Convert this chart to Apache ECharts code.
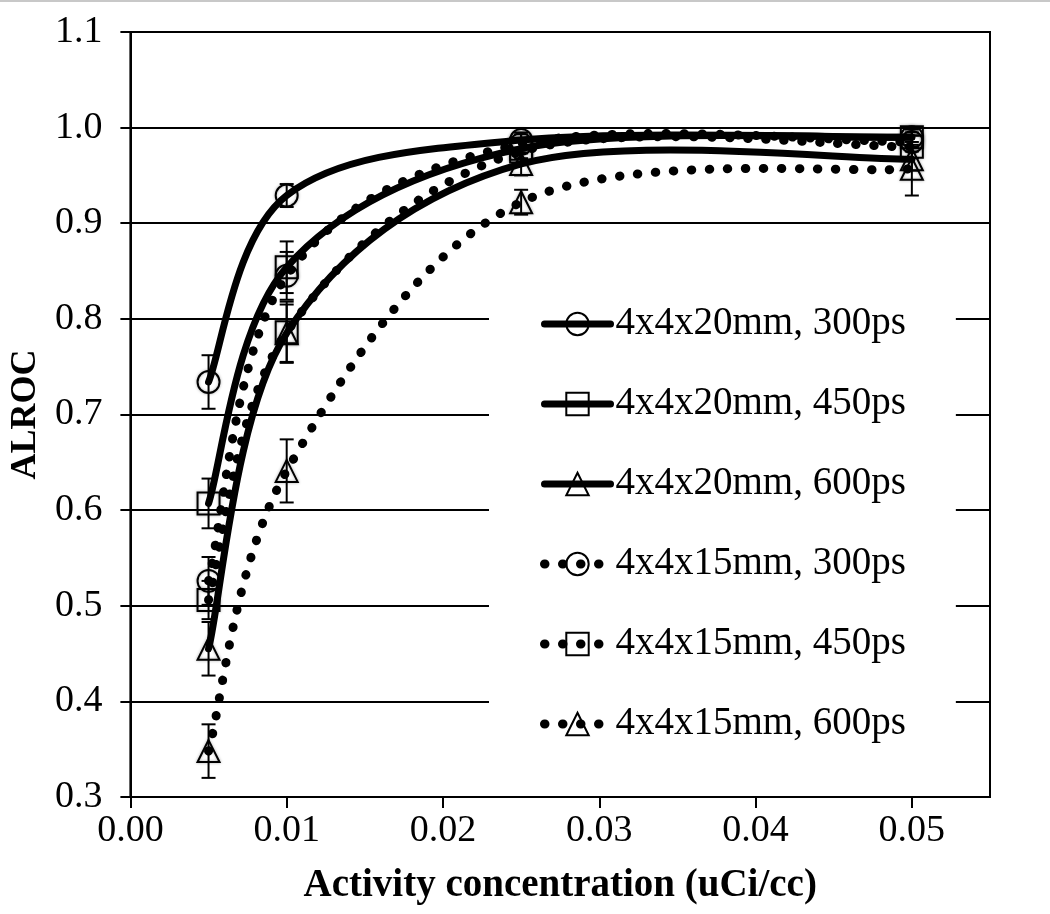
<!DOCTYPE html>
<html>
<head>
<meta charset="utf-8">
<script src="https://cdn.jsdelivr.net/npm/echarts@6/dist/echarts.min.js"></script>
<style>
html,body{margin:0;padding:0;background:#fff;}
#chart{width:1050px;height:914px;}
</style>
</head>
<body>
<div id="chart"></div>
<script>
// ---- data ----
const xValues = [0.005, 0.01, 0.025, 0.05];
const seriesNames = [
  '4x4x20mm, 300ps', '4x4x20mm, 450ps', '4x4x20mm, 600ps',
  '4x4x15mm, 300ps', '4x4x15mm, 450ps', '4x4x15mm, 600ps'
];
const s20_300 = [0.734, 0.929, 0.987, 0.990];
const s20_450 = [0.607, 0.854, 0.978, 0.990];
const s20_600 = [0.455, 0.785, 0.962, 0.967];
const s15_300 = [0.526, 0.845, 0.983, 0.985];
const s15_450 = [0.506, 0.786, 0.975, 0.980];
const s15_600 = [0.348, 0.641, 0.922, 0.957];
const e20_300 = [0.028, 0.012, 0.008, 0.008];
const e20_450 = [0.026, 0.027, 0.010, 0.010];
const e20_600 = [0.028, 0.030, 0.012, 0.012];
const e15_300 = [0.025, 0.025, 0.010, 0.010];
const e15_450 = [0.020, 0.032, 0.012, 0.012];
const e15_600 = [0.028, 0.033, 0.013, 0.028];
const xTicks = [0, 0.01, 0.02, 0.03, 0.04, 0.05];
const yTicks = [0.3, 0.4, 0.5, 0.6, 0.7, 0.8, 0.9, 1.0, 1.1];

const allValues = [s20_300, s20_450, s20_600, s15_300, s15_450, s15_600];
const allErrors = [e20_300, e20_450, e20_600, e15_300, e15_450, e15_600];
const symbols = ['circle', 'rect', 'triangle', 'circle', 'rect', 'triangle'];

const FONT = '"Liberation Serif", "Times New Roman", serif';
const SOLID = { color: '#000', width: 7, type: 'solid', cap: 'round', opacity: 1 };
const DOTTED = { color: '#000', width: 9, type: [0.5, 17.5], cap: 'round', opacity: 1 };

// smooth curve (Excel-like Catmull-Rom) through the data, in pixel space via api.coord
function curvePath(api, vals) {
  const pts = vals.map((v, k) => api.coord([xValues[k], v]));
  let d = 'M' + pts[0][0] + ' ' + pts[0][1];
  for (let i = 0; i < pts.length - 1; i++) {
    const p0 = pts[Math.max(i - 1, 0)], p1 = pts[i], p2 = pts[i + 1];
    const p3 = pts[Math.min(i + 2, pts.length - 1)];
    const c1x = p1[0] + (p2[0] - p0[0]) / 6, c1y = p1[1] + (p2[1] - p0[1]) / 6;
    const c2x = p2[0] - (p3[0] - p1[0]) / 6, c2y = p2[1] - (p3[1] - p1[1]) / 6;
    d += ' C' + c1x + ' ' + c1y + ' ' + c2x + ' ' + c2y + ' ' + p2[0] + ' ' + p2[1];
  }
  return d;
}

const curveSeries = allValues.map((vals, i) => {
  const ls = i >= 3 ? DOTTED : SOLID;
  return {
    type: 'custom',
    name: 'curve' + i,
    z: 2,
    silent: true,
    data: vals.map((v, k) => [xValues[k], v]),
    encode: { x: 0, y: 1 },
    renderItem: function (params, api) {
      if (params.dataIndex !== 0) return null;
      return {
        type: 'path',
        shape: { pathData: curvePath(api, vals) },
        style: {
          fill: null, stroke: '#000', lineWidth: ls.width,
          lineDash: ls.type === 'solid' ? null : ls.type, lineCap: 'round', lineJoin: 'round'
        }
      };
    }
  };
});

const markerSeries = allValues.map((vals, i) => ({
  name: seriesNames[i],
  type: 'line',
  data: vals.map((v, k) => [xValues[k], v]),
  symbol: symbols[i],
  symbolSize: 22,
  showAllSymbol: true,
  z: 3,
  lineStyle: { opacity: 0 },
  itemStyle: { color: 'rgba(255,255,255,0)', borderColor: '#000', borderWidth: 2,
               shadowBlur: 3, shadowColor: 'rgba(0,0,0,0.35)' },
  emphasis: { disabled: true }
}));

const errData = [];
allValues.forEach((vals, i) => {
  vals.forEach((v, k) => {
    errData.push([xValues[k], v - allErrors[i][k], v + allErrors[i][k]]);
  });
});

const errSeries = {
  type: 'custom',
  name: 'err',
  z: 4,
  silent: true,
  data: errData,
  encode: { x: 0, y: [1, 2] },
  renderItem: function (params, api) {
    const x = api.value(0);
    const lo = api.coord([x, api.value(1)]);
    const hi = api.coord([x, api.value(2)]);
    const hw = 7;
    const st = { stroke: '#000', lineWidth: 2 };
    return {
      type: 'group',
      children: [
        { type: 'line', shape: { x1: lo[0], y1: lo[1], x2: hi[0], y2: hi[1] }, style: st },
        { type: 'line', shape: { x1: lo[0] - hw, y1: lo[1], x2: lo[0] + hw, y2: lo[1] }, style: st },
        { type: 'line', shape: { x1: hi[0] - hw, y1: hi[1], x2: hi[0] + hw, y2: hi[1] }, style: st }
      ]
    };
  }
};

const chart = echarts.init(document.getElementById('chart'), null, { renderer: 'canvas' });
chart.setOption({
  backgroundColor: '#fff',
  animation: false,
  textStyle: { fontFamily: FONT, color: '#000' },
  graphic: [{
    type: 'rect', left: 0, top: 0, shape: { width: 1050, height: 2 },
    style: { fill: '#c8c8c8' }, silent: true
  }],
  grid: {
    left: 128, right: 60, top: 32, bottom: 117,
    show: true, borderColor: '#000', borderWidth: 2, backgroundColor: 'transparent'
  },
  legend: {
    data: seriesNames.map((n, i) => ({ name: n, lineStyle: i >= 3 ? DOTTED : SOLID })),
    orient: 'vertical',
    left: 489,
    top: 285,
    padding: [19, 50, 21, 51],
    backgroundColor: '#fff',
    itemWidth: 66,
    itemHeight: 28,
    itemGap: 40,
    selectedMode: false,
    textStyle: { fontFamily: FONT, fontSize: 39, color: '#000', lineHeight: 40 }
  },
  xAxis: {
    type: 'value',
    min: 0,
    max: 0.055,
    interval: 0.01,
    name: 'Activity concentration (uCi/cc)',
    nameLocation: 'middle',
    nameGap: 69,
    nameTextStyle: { fontFamily: FONT, fontSize: 39, fontWeight: 'bold', color: '#000' },
    axisLine: { show: true, onZero: false, lineStyle: { color: '#000', width: 2 } },
    axisTick: { show: true, length: 11, customValues: xTicks, lineStyle: { color: '#000', width: 2 } },
    axisLabel: {
      customValues: xTicks,
      margin: 15,
      fontFamily: FONT, fontSize: 38, color: '#000',
      formatter: v => v.toFixed(2)
    },
    splitLine: { show: false }
  },
  yAxis: {
    type: 'value',
    min: 0.3,
    max: 1.1,
    interval: 0.1,
    name: 'ALROC',
    nameLocation: 'middle',
    nameGap: 76,
    nameRotate: 90,
    nameTextStyle: { fontFamily: FONT, fontSize: 36, fontWeight: 'bold', color: '#000' },
    axisLine: { show: true, lineStyle: { color: '#000', width: 2 } },
    axisTick: { show: true, length: 10, customValues: yTicks, lineStyle: { color: '#000', width: 2 } },
    axisLabel: {
      customValues: yTicks,
      margin: 28,
      fontFamily: FONT, fontSize: 38, color: '#000',
      formatter: v => v.toFixed(1)
    },
    splitLine: { show: true, lineStyle: { color: '#000', width: 2 } }
  },
  series: curveSeries.concat(markerSeries, [errSeries])
});
</script>
</body>
</html>
